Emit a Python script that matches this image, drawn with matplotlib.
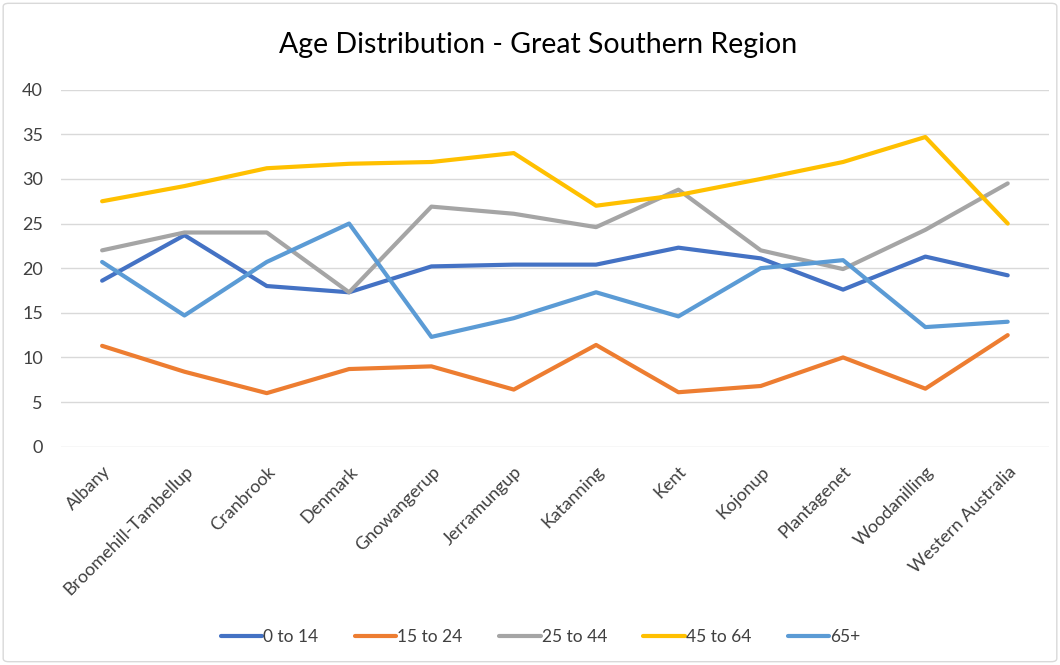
# Age distribution - Great Southern Region

import matplotlib.pyplot as plt
from matplotlib.patches import FancyBboxPatch

plt.rcParams['font.family'] = ['Lato', 'DejaVu Sans']

regions = ['Albany', 'Broomehill-Tambellup', 'Cranbrook', 'Denmark', 'Gnowangerup',
           'Jerramungup', 'Katanning', 'Kent', 'Kojonup', 'Plantagenet',
           'Woodanilling', 'Western Australia']

age_0_14 = [18.6, 23.7, 18.0, 17.3, 20.2, 20.4, 20.4, 22.3, 21.1, 17.6, 21.3, 19.2]
age_15_24 = [11.3, 8.4, 6.0, 8.7, 9.0, 6.4, 11.4, 6.1, 6.8, 10.0, 6.5, 12.5]
age_25_44 = [22.0, 24.0, 24.0, 17.3, 26.9, 26.1, 24.6, 28.8, 22.0, 19.9, 24.3, 29.5]
age_45_64 = [27.5, 29.2, 31.2, 31.7, 31.9, 32.9, 27.0, 28.2, 30.0, 31.9, 34.7, 25.0]
age_65_plus = [20.7, 14.7, 20.7, 25.0, 12.3, 14.4, 17.3, 14.6, 20.0, 20.9, 13.4, 14.0]

series = [('0 to 14', age_0_14, '#4472C4'),
          ('15 to 24', age_15_24, '#ED7D31'),
          ('25 to 44', age_25_44, '#A5A5A5'),
          ('45 to 64', age_45_64, '#FFC000'),
          ('65+', age_65_plus, '#5B9BD5')]

fig = plt.figure(figsize=(10.6, 6.65), dpi=100)
ax = fig.add_axes([0.0575, 0.3283, 0.932, 0.5368])

x = list(range(len(regions)))
for name, vals, col in series:
    ax.plot(x, vals, color=col, linewidth=3, label=name, solid_capstyle='round')

ax.set_xlim(-0.5, len(regions) - 0.5)
ax.set_ylim(0, 40)
ax.set_yticks(range(0, 41, 5))
ax.grid(axis='y', color='#d9d9d9', linewidth=1)
ax.set_axisbelow(True)
for s in ax.spines.values():
    s.set_visible(False)
ax.tick_params(length=0, labelsize=13, colors='#404040', pad=13)
ax.tick_params(axis='x', pad=12)
ax.set_xticks(x)
ax.set_xticklabels(regions, rotation=45, ha='right', rotation_mode='anchor')

fig.text(0.508, 0.932, 'Age Distribution - Great Southern Region', ha='center',
         va='center', fontsize=20.5, color='#000000')

ax.legend(loc='center', bbox_to_anchor=(0.51, 1 - 637 / 665), bbox_transform=fig.transFigure,
          ncol=5, frameon=False, fontsize=12.5, handlelength=2.4, handletextpad=0.05,
          columnspacing=2.1, labelcolor='#404040')

fig.patches.append(FancyBboxPatch((0.003, 0.005), 0.994, 0.99, boxstyle='round,pad=0,rounding_size=0.005',
                                  transform=fig.transFigure, fill=False, edgecolor='#d9d9d9', linewidth=1))

fig.savefig('out.png', dpi=100)
